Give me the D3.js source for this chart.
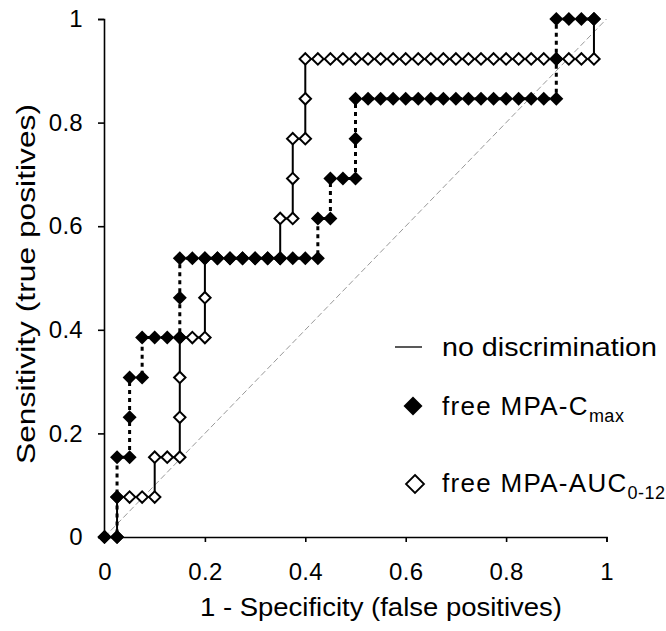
<!DOCTYPE html>
<html>
<head>
<meta charset="utf-8">
<script src="https://cdn.jsdelivr.net/npm/d3@7"></script>
<style>
  body { margin: 0; background: #fff; }
  text { font-family: "Liberation Sans", Arial, sans-serif; fill: #000; }
</style>
</head>
<body>
<script>
// ROC curves, 1 - specificity vs sensitivity
const cmaxX = [0, 0.025, 0.025, 0.025, 0.05, 0.05, 0.05, 0.075, 0.075, 0.1, 0.125,
  0.15, 0.15, 0.15, 0.175, 0.2, 0.225, 0.25, 0.275, 0.3, 0.325, 0.35, 0.375, 0.4, 0.425,
  0.425, 0.45, 0.45, 0.475, 0.5, 0.5, 0.5, 0.525, 0.55, 0.575, 0.6, 0.625, 0.65, 0.675,
  0.7, 0.725, 0.75, 0.775, 0.8, 0.825, 0.85, 0.875, 0.9, 0.9, 0.9, 0.925, 0.95, 0.975];
const cmaxY = [0, 0, 0.077, 0.154, 0.154, 0.231, 0.308, 0.308, 0.385, 0.385, 0.385,
  0.385, 0.462, 0.538, 0.538, 0.538, 0.538, 0.538, 0.538, 0.538, 0.538, 0.538, 0.538, 0.538, 0.538,
  0.615, 0.615, 0.692, 0.692, 0.692, 0.769, 0.846, 0.846, 0.846, 0.846, 0.846, 0.846, 0.846, 0.846,
  0.846, 0.846, 0.846, 0.846, 0.846, 0.846, 0.846, 0.846, 0.846, 0.923, 1, 1, 1, 1];

const aucX = [0, 0.025, 0.025, 0.05, 0.075, 0.1, 0.1, 0.125, 0.15, 0.15, 0.15, 0.15,
  0.175, 0.2, 0.2, 0.2, 0.225, 0.25, 0.275, 0.3, 0.325, 0.35, 0.35, 0.375, 0.375, 0.375,
  0.4, 0.4, 0.4, 0.425, 0.45, 0.475, 0.5, 0.525, 0.55, 0.575, 0.6, 0.625, 0.65, 0.675,
  0.7, 0.725, 0.75, 0.775, 0.8, 0.825, 0.85, 0.875, 0.9, 0.925, 0.95, 0.975, 0.975];
const aucY = [0, 0, 0.077, 0.077, 0.077, 0.077, 0.154, 0.154, 0.154, 0.231, 0.308, 0.385,
  0.385, 0.385, 0.462, 0.538, 0.538, 0.538, 0.538, 0.538, 0.538, 0.538, 0.615, 0.615, 0.692, 0.769,
  0.769, 0.846, 0.923, 0.923, 0.923, 0.923, 0.923, 0.923, 0.923, 0.923, 0.923, 0.923, 0.923, 0.923,
  0.923, 0.923, 0.923, 0.923, 0.923, 0.923, 0.923, 0.923, 0.923, 0.923, 0.923, 0.923, 1];

const diagonal = [[0, 0], [1, 1]];
const xTicks = [0, 0.2, 0.4, 0.6, 0.8, 1];
const yTicks = [0, 0.2, 0.4, 0.6, 0.8, 1];

const cmax = cmaxX.map((d, i) => [d, cmaxY[i]]);
const auc = aucX.map((d, i) => [d, aucY[i]]);

const svg = d3.select('body')
  .append('svg')
  .attr('width', 666)
  .attr('height', 631);

const x = d3.scaleLinear().domain([0, 1]).range([104.5, 606.5]);
const y = d3.scaleLinear().domain([0, 1]).range([537, 19]);

const fmt = d => d === 0 || d === 1 ? String(d) : d3.format('.1f')(d);

// axes
svg.append('g')
  .attr('transform', 'translate(0,537)')
  .call(d3.axisBottom(x).tickValues(xTicks).tickFormat(fmt).tickSize(5).tickPadding(21));
svg.append('g')
  .attr('transform', 'translate(104,0)')
  .call(d3.axisLeft(y).tickValues(yTicks).tickFormat(fmt).tickSize(6).tickPadding(15));

svg.selectAll('.domain, .tick line')
  .attr('stroke', '#000')
  .attr('stroke-width', 1.6);
svg.selectAll('.tick text')
  .attr('font-size', 24)
  .attr('font-family', '"Liberation Sans", Arial, sans-serif')
  .attr('letter-spacing', 0.3);

// no discrimination line
const line = d3.line().x(d => x(d[0])).y(d => y(d[1]));

svg.append('path')
  .attr('d', line(diagonal))
  .attr('fill', 'none')
  .attr('stroke', '#999')
  .attr('stroke-width', 1)
  .attr('stroke-dasharray', '6,3');

svg.append('path')
  .attr('d', line(auc))
  .attr('fill', 'none')
  .attr('stroke', '#000')
  .attr('stroke-width', 2);

svg.append('path')
  .attr('d', line(cmax))
  .attr('fill', 'none')
  .attr('stroke', '#000')
  .attr('stroke-width', 3)
  .attr('stroke-dasharray', '4,4');

// diamond markers
const diamond = s => `M0,${-s}L${s},0L0,${s}L${-s},0Z`;

svg.selectAll('.auc')
  .data(auc)
  .enter()
  .append('path')
  .attr('class', 'auc')
  .attr('d', diamond(5.7))
  .attr('transform', d => `translate(${x(d[0])},${y(d[1])})`)
  .attr('fill', '#fff')
  .attr('stroke', '#000')
  .attr('stroke-width', 2);

svg.selectAll('.cmax')
  .data(cmax)
  .enter()
  .append('path')
  .attr('class', 'cmax')
  .attr('d', diamond(7))
  .attr('transform', d => `translate(${x(d[0])},${y(d[1])})`)
  .attr('fill', '#000');

// axis titles
svg.append('text')
  .attr('x', 381)
  .attr('y', 616)
  .attr('text-anchor', 'middle')
  .attr('font-size', 26)
  .attr('textLength', 362)
  .attr('lengthAdjust', 'spacingAndGlyphs')
  .text('1 - Specificity (false positives)');

svg.append('text')
  .attr('transform', 'translate(35,284) rotate(-90)')
  .attr('text-anchor', 'middle')
  .attr('font-size', 26)
  .attr('textLength', 360)
  .attr('lengthAdjust', 'spacingAndGlyphs')
  .text('Sensitivity (true positives)');

// legend
svg.append('line')
  .attr('x1', 395).attr('x2', 422)
  .attr('y1', 347).attr('y2', 347)
  .attr('stroke', '#222')
  .attr('stroke-width', 1.5);
svg.append('text')
  .attr('x', 442).attr('y', 356)
  .attr('font-size', 26)
  .attr('textLength', 215)
  .attr('lengthAdjust', 'spacingAndGlyphs')
  .text('no discrimination');

svg.append('path')
  .attr('d', diamond(9.5))
  .attr('transform', 'translate(413,406)')
  .attr('fill', '#000');
const t1 = svg.append('text')
  .attr('x', 442).attr('y', 415)
  .attr('font-size', 26)
  .attr('letter-spacing', 1.3);
t1.append('tspan').text('free MPA-C');
t1.append('tspan').attr('font-size', 18).attr('dy', 7).attr('letter-spacing', 0.5).text('max');

svg.append('path')
  .attr('d', diamond(9))
  .attr('transform', 'translate(415,484)')
  .attr('fill', '#fff')
  .attr('stroke', '#000')
  .attr('stroke-width', 1.8);
const t2 = svg.append('text')
  .attr('x', 442).attr('y', 492)
  .attr('font-size', 26)
  .attr('letter-spacing', 1.3);
t2.append('tspan').text('free MPA-AUC');
t2.append('tspan').attr('font-size', 18).attr('dy', 7).attr('letter-spacing', 0.5).text('0-12');
</script>
</body>
</html>
